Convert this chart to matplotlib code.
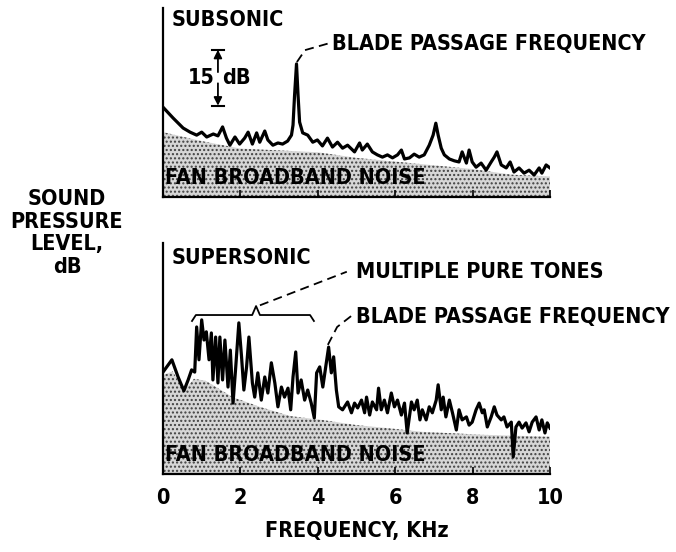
import matplotlib
matplotlib.use("Agg")
import matplotlib.pyplot as plt

plt.rcParams["font.family"] = ["DejaVu Sans"]
plt.rcParams["font.stretch"] = "condensed"
plt.rcParams["font.weight"] = "bold"
plt.rcParams["hatch.linewidth"] = 1.0
plt.rcParams["hatch.color"] = "#404040"

FONT_SIZE = 15.5

# subsonic fan spectrum (kHz, dB re. baseline)
sub_freq = [0, 0.26, 0.52, 0.70, 0.87, 1.0, 1.13, 1.3, 1.42, 1.54,
            1.64, 1.73, 1.86, 1.98, 2.11, 2.2, 2.31, 2.42, 2.5, 2.63,
            2.71, 2.84, 2.97, 3.09, 3.22, 3.32, 3.36, 3.40, 3.45, 3.49,
            3.53, 3.61, 3.74, 3.87, 3.99, 4.12, 4.25, 4.38, 4.51, 4.64,
            4.77, 4.95, 5.08, 5.15, 5.28, 5.41, 5.54, 5.67, 5.80, 5.93,
            6.06, 6.16, 6.24, 6.37, 6.49, 6.62, 6.75, 6.88, 6.98, 7.05,
            7.11, 7.19, 7.27, 7.40, 7.53, 7.65, 7.73, 7.84, 7.91, 7.99,
            8.09, 8.22, 8.35, 8.48, 8.56, 8.63, 8.74, 8.87, 8.97, 9.07,
            9.20, 9.33, 9.46, 9.59, 9.72, 9.79, 9.90, 10.0]
sub_level = [24.1, 21.2, 18.5, 17.4, 16.6, 17.4, 16.1, 16.9, 16.4, 18.8,
             15.8, 13.9, 16.1, 14.2, 15.8, 17.4, 14.2, 17.2, 14.7, 17.7,
             15.3, 13.9, 14.5, 14.2, 15.0, 16.6, 19.3, 27.3, 35.7, 27.3,
             20.1, 17.2, 16.6, 14.7, 15.3, 13.7, 15.8, 13.4, 14.7, 13.1,
             13.9, 12.1, 14.5, 12.6, 14.2, 12.1, 11.3, 10.7, 11.3, 10.5,
             11.3, 12.6, 10.2, 10.5, 11.5, 10.7, 11.3, 13.9, 16.6, 19.8,
             16.6, 13.1, 11.3, 10.2, 9.7, 9.4, 12.1, 9.1, 12.6, 9.4,
             8.0, 9.1, 7.2, 9.4, 10.7, 12.1, 8.6, 7.8, 9.4, 6.7,
             7.8, 6.4, 7.2, 5.9, 7.8, 6.4, 8.6, 7.8]

sub_bb_freq = [0, 1, 2, 3, 4, 5, 6, 7, 8, 9, 10]
sub_bb_level = [17.4, 15.0, 13.0, 12.5, 12.0, 10.5, 9.5, 8.5, 7.5, 6.0, 5.5]

# supersonic fan spectrum
sup_freq = [0.0, 0.23, 0.39, 0.54, 0.65, 0.74, 0.82, 0.87, 0.93, 1.0,
            1.06, 1.12, 1.19, 1.25, 1.29, 1.36, 1.42, 1.47, 1.54, 1.60,
            1.68, 1.74, 1.81, 1.88, 1.96, 2.03, 2.09, 2.16, 2.22, 2.31,
            2.37, 2.45, 2.54, 2.63, 2.71, 2.80, 2.89, 2.97, 3.06, 3.14,
            3.23, 3.30, 3.36, 3.43, 3.49, 3.57, 3.66, 3.74, 3.83, 3.91,
            3.97, 4.05, 4.13, 4.22, 4.28, 4.35, 4.41, 4.48, 4.54, 4.64,
            4.77, 4.87, 4.95, 5.03, 5.13, 5.21, 5.26, 5.34, 5.41, 5.52,
            5.57, 5.64, 5.72, 5.80, 5.90, 5.98, 6.06, 6.16, 6.24, 6.31,
            6.42, 6.49, 6.57, 6.64, 6.70, 6.80, 6.88, 6.96, 7.06, 7.11,
            7.19, 7.24, 7.31, 7.40, 7.48, 7.58, 7.65, 7.73, 7.84, 7.91,
            7.99, 8.09, 8.17, 8.25, 8.30, 8.38, 8.48, 8.56, 8.63, 8.74,
            8.81, 8.89, 9.00, 9.05, 9.12, 9.20, 9.28, 9.38, 9.46, 9.54,
            9.64, 9.72, 9.79, 9.87, 9.93, 10.0]
sup_level = [27.3, 30.6, 26.0, 22.3, 25.2, 27.9, 27.3, 39.4, 30.6, 41.3,
             35.9, 38.1, 30.6, 37.8, 25.2, 36.7, 24.4, 36.7, 25.2, 35.9,
             23.3, 33.2, 19.0, 28.7, 40.5, 31.4, 22.5, 28.7, 36.7, 24.4,
             20.6, 27.1, 19.8, 26.0, 21.7, 29.8, 24.4, 18.0, 23.3, 20.6,
             23.0, 17.2, 26.0, 32.7, 21.7, 25.2, 19.8, 22.5, 19.0, 15.0,
             27.1, 28.7, 23.3, 29.8, 34.0, 27.1, 31.4, 22.5, 18.0, 17.2,
             19.3, 16.4, 19.0, 17.7, 19.8, 16.4, 20.6, 15.8, 19.3, 17.2,
             23.0, 17.2, 19.8, 16.4, 21.7, 18.0, 19.8, 15.8, 19.0, 11.0,
             19.3, 17.2, 19.8, 14.5, 17.2, 14.5, 18.0, 16.4, 19.8, 23.9,
             17.2, 20.6, 15.3, 19.8, 16.4, 11.8, 17.2, 14.5, 15.3, 13.1,
             13.9, 17.2, 19.0, 16.4, 17.2, 12.6, 15.3, 18.0, 15.8, 14.5,
             15.3, 12.6, 13.9, 4.6, 12.6, 13.9, 12.3, 13.7, 11.3, 13.9,
             15.3, 11.8, 14.5, 11.0, 13.7, 12.3]

sup_bb_freq = [0, 0.25, 0.54, 0.8, 1.1, 1.8, 2.5, 3.3, 4.1, 5.0, 5.8, 6.7, 8.3, 10.0]
sup_bb_level = [26.5, 27.5, 22.3, 25.5, 25.0, 20.6, 18.0, 15.5, 14.5, 13.1, 12.3, 11.3, 10.5, 10.0]

freq_ticks = [0, 2, 4, 6, 8, 10]
tone_band = (0.75, 3.9)
scale_bar = (24.5, 39.5)  # 15 dB


def style_axis(ax, top):
    for side in ("top", "right"):
        ax.spines[side].set_visible(False)
    for side in ("left", "bottom"):
        ax.spines[side].set_linewidth(1.6)
    ax.set_xlim(0, 10)
    ax.set_ylim(0, top)
    ax.set_yticks([])
    ax.set_xticks(freq_ticks)
    ax.tick_params(axis="x", direction="in", length=5, width=1.2,
                   labelsize=FONT_SIZE, pad=10)


def draw_spectrum(ax, freq, level, bb_freq, bb_level):
    ax.fill_between(bb_freq, 0, bb_level, facecolor="#d6d6d6",
                    edgecolor="#404040", hatch="....", linewidth=0, zorder=1)
    ax.plot(freq, level, color="black", linewidth=2.3, zorder=3)
    ax.text(0.05, 5.1, "FAN BROADBAND NOISE", fontsize=FONT_SIZE,
            ha="left", va="center", zorder=4)


fig = plt.figure(figsize=(6.76, 5.52), dpi=100)
ax1 = fig.add_axes([0.2411, 0.6431, 0.5725, 0.3424])
ax2 = fig.add_axes([0.2411, 0.1413, 0.5725, 0.4185])

style_axis(ax1, 50.7)
ax1.set_xticklabels([])
style_axis(ax2, 61.9)

draw_spectrum(ax1, sub_freq, sub_level, sub_bb_freq, sub_bb_level)
draw_spectrum(ax2, sup_freq, sup_level, sup_bb_freq, sup_bb_level)

dash = dict(color="black", linewidth=1.3, dashes=(5, 3))

# subsonic panel labels
ax1.text(0.23, 47.5, "SUBSONIC", fontsize=FONT_SIZE, ha="left", va="center")
ax1.text(4.37, 41.0, "BLADE PASSAGE FREQUENCY", fontsize=FONT_SIZE,
         ha="left", va="center")
ax1.plot([3.46, 3.67, 4.31], [36.2, 39.4, 41.3], **dash)

# 15 dB scale bar
bar_x = 1.42
lo, hi = scale_bar
mid = (lo + hi) / 2
ax1.plot([bar_x - 0.15, bar_x + 0.15], [hi, hi], color="black", lw=1.5)
ax1.plot([bar_x - 0.15, bar_x + 0.15], [lo, lo], color="black", lw=1.5)
ax1.annotate("", xy=(bar_x, hi), xytext=(bar_x, mid + 1.5),
             arrowprops=dict(arrowstyle="-|>", color="black", lw=1.3,
                             mutation_scale=12, shrinkA=0, shrinkB=0))
ax1.annotate("", xy=(bar_x, lo), xytext=(bar_x, mid - 1.5),
             arrowprops=dict(arrowstyle="-|>", color="black", lw=1.3,
                             mutation_scale=12, shrinkA=0, shrinkB=0))
ax1.text(bar_x - 0.08, mid, "15", fontsize=FONT_SIZE, ha="right", va="center")
ax1.text(bar_x + 0.12, mid, "dB", fontsize=FONT_SIZE, ha="left", va="center")

# supersonic panel labels
ax2.text(0.23, 57.9, "SUPERSONIC", fontsize=FONT_SIZE, ha="left", va="center")
ax2.text(5.0, 54.2, "MULTIPLE PURE TONES", fontsize=FONT_SIZE,
         ha="left", va="center")
ax2.text(4.98, 42.1, "BLADE PASSAGE FREQUENCY", fontsize=FONT_SIZE,
         ha="left", va="center")

# brace over the pure tones
b0, b1 = tone_band
bc = (b0 + b1) / 2 + 0.08
ax2.plot([b0, b0 + 0.1, bc - 0.1, bc, bc + 0.1, b1 - 0.1, b1],
         [41.0, 42.6, 42.6, 45.0, 42.6, 42.6, 41.0], color="black", lw=1.3)
ax2.plot([bc + 0.1, 4.75], [45.2, 54.2], **dash)
ax2.plot([4.26, 4.5, 4.86], [34.6, 39.4, 42.3], **dash)

fig.text(67 / 676, 1 - 233 / 552, "SOUND\nPRESSURE\nLEVEL,\ndB",
         fontsize=FONT_SIZE, ha="center", va="center", multialignment="center",
         linespacing=1.15)
fig.text(357 / 676, 1 - 531 / 552, "FREQUENCY, KHz", fontsize=FONT_SIZE,
         ha="center", va="center")

fig.savefig("out.png", dpi=100)
